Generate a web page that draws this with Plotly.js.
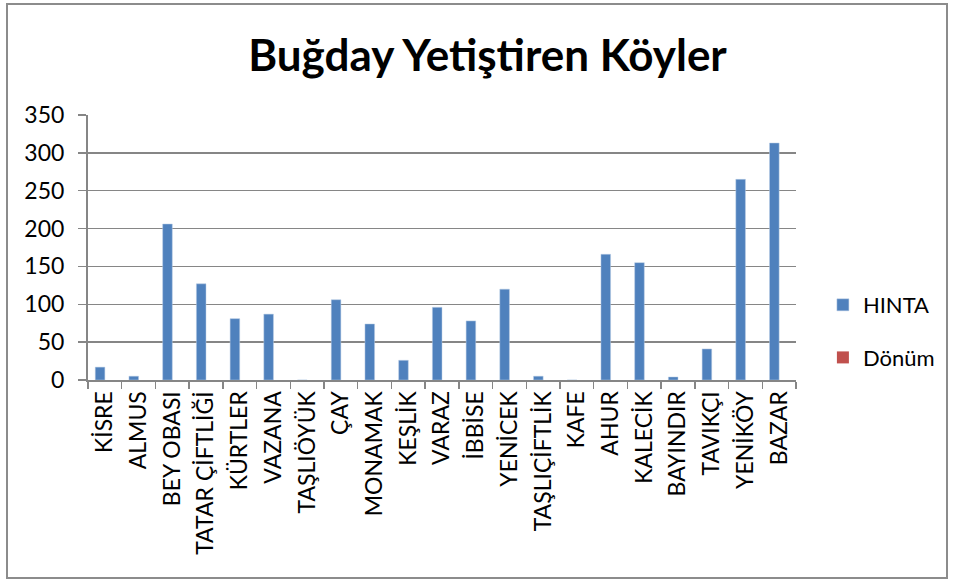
<!DOCTYPE html>
<html>
<head>
<meta charset="utf-8">
<script src="https://cdn.plot.ly/plotly-3.0.1.min.js"></script>
<style>
html,body{margin:0;padding:0;background:#fff;}
#wrap{position:relative;width:954px;height:581px;}
#chart{width:954px;height:581px;}
#frame{position:absolute;left:6px;top:3px;width:938px;height:572px;border:2px solid #8c8c8c;pointer-events:none;}
</style>
</head>
<body>
<div id="wrap"><div id="chart"></div><div id="frame"></div></div>
<script>
const categories = ["KİSRE","ALMUS","BEY OBASI","TATAR ÇİFTLİĞİ","KÜRTLER","VAZANA","TAŞLIÖYÜK","ÇAY","MONAMAK","KEŞLİK","VARAZ","İBBİSE","YENİCEK","TAŞLIÇİFTLİK","KAFE","AHUR","KALECİK","BAYINDIR","TAVIKÇI","YENİKÖY","BAZAR"];
const hinta = [17,5,206,127,81,87,0,106,74,26,96,78,120,5,0,166,155,4,41,265,313];
const donum = [0,0,0,0,0,0,0,0,0,0,0,0,0,0,0,0,0,0,0,0,0];
const yTicks = [0,50,100,150,200,250,300,350];

const font = "Lato, 'Open Sans', sans-serif";
const data = [
  {type:"bar", name:"HINTA", legendgroup:"a", x:categories, y:hinta, marker:{color:"#4f81bd", line:{color:"#b9cde5", width:0.5}}},
  {type:"bar", name:"Dönüm", legendgroup:"b", x:categories, y:donum, marker:{color:"#c0504d"}}
];
const layout = {
  width:954, height:581,
  margin:{l:88, r:158, t:115, b:201},
  paper_bgcolor:"#fff", plot_bgcolor:"#fff",
  font:{family:font, color:"#000", size:22},
  title:{text:"<b>Buğday Yetiştiren Köyler</b>", font:{family:font, size:44, color:"#000"}, x:0.511, xanchor:"center", y:0.905, yanchor:"middle", yref:"container"},
  barmode:"group", bargap:0.43, bargroupgap:0,
  xaxis:{type:"category", tickangle:-90, tickson:"boundaries", ticks:"outside", ticklen:7, tickcolor:"#868686", tickwidth:1.5,
         showline:true, linecolor:"#868686", linewidth:2, showgrid:false, tickfont:{size:23, family:font}, automargin:false},
  yaxis:{range:[0,350], tickvals:yTicks, ticks:"outside", ticklen:8, tickcolor:"#868686", tickwidth:1.5, ticklabelstandoff:9,
         showline:true, linecolor:"#868686", linewidth:2, showgrid:true, gridcolor:"#868686", gridwidth:1.5,
         zeroline:false, tickfont:{size:23, family:font}, automargin:false, fixedrange:true},
  legend:{x:1.038, xanchor:"left", y:0.183, yanchor:"middle", font:{size:22, family:font}, tracegroupgap:21, itemwidth:30, traceorder:"grouped"},
  showlegend:true
};
Plotly.newPlot("chart", data, layout, {displayModeBar:false, staticPlot:true});
</script>
</body>
</html>
